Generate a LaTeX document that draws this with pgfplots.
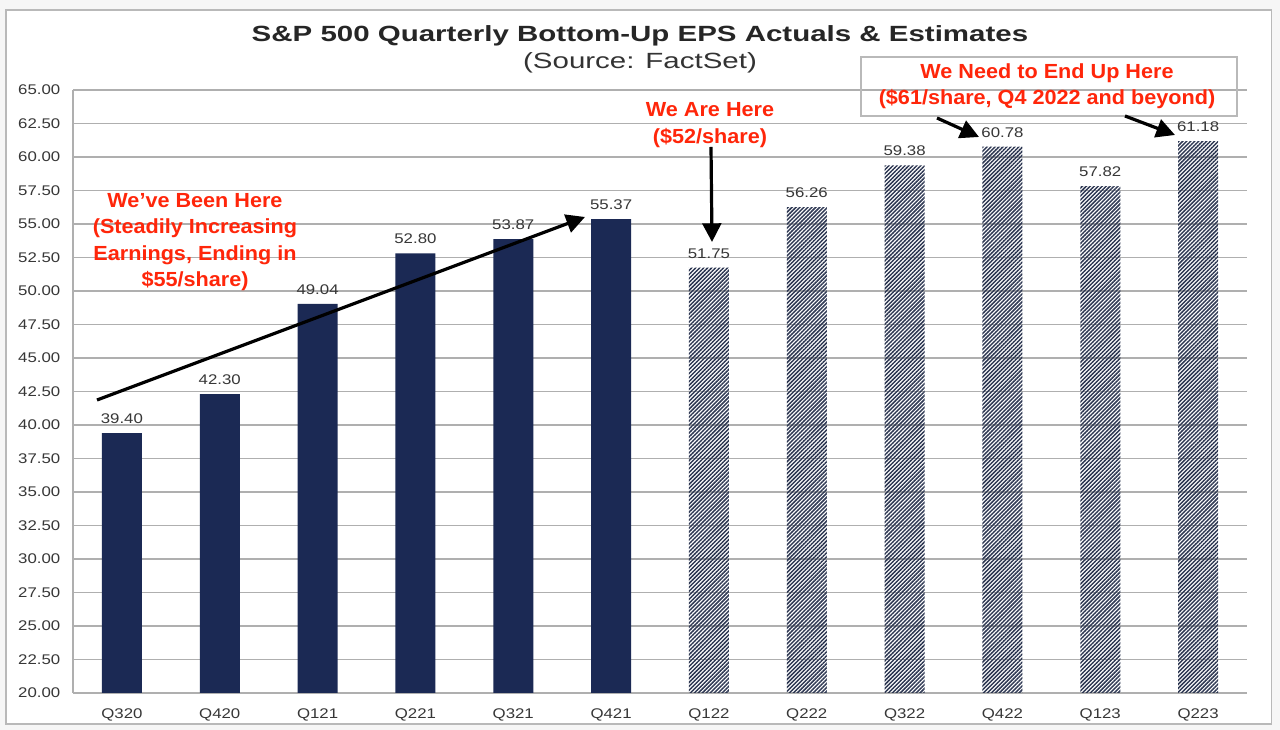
\documentclass[border=0pt]{standalone}
\usepackage{pgfplots}
\pgfplotsset{compat=1.18}
\usepackage{fontspec}
\setmainfont[FakeStretch=1.2]{Liberation Sans}
\newfontfamily\titlefont[FakeStretch=1.34]{Liberation Sans}
\newfontfamily\redfont[FakeStretch=1.06]{Liberation Sans}
\usetikzlibrary{patterns.meta,arrows.meta}
\definecolor{navy}{RGB}{27,41,84}
\definecolor{hatch}{RGB}{45,55,82}
\definecolor{redtxt}{RGB}{255,38,10}
\definecolor{gridgray}{RGB}{175,175,175}
\definecolor{labelgray}{RGB}{55,55,55}
\newcommand{\tickfont}{\fontsize{10.5}{12}\selectfont}
\newcommand{\redstyle}{\redfont\bfseries\fontsize{15.3}{19.8}\selectfont}
\begin{document}
\begin{tikzpicture}
\fill[gray!7] (0,0) rectangle (960pt,547.5pt);
\draw[gray!55, fill=white, line width=1pt] (4.5pt,4.5pt) rectangle (953.5pt,540pt);
\begin{axis}[
  at={(54.75pt,27.75pt)}, anchor=south west, scale only axis,
  width=880.5pt, height=452.25pt,
  xmin=-0.5, xmax=11.5, ymin=20, ymax=65,
  ytick={20,22.5,...,65},
  xtick={0,...,11},
  xticklabels={Q320,Q420,Q121,Q221,Q321,Q421,Q122,Q222,Q322,Q422,Q123,Q223},
  axis lines*=left,
  axis line style={draw=gridgray, line width=1.1pt},
  ymajorgrids, grid style={gridgray, line width=1.1pt},
  major tick length=0pt,
  ticklabel style={font=\tickfont, text=labelgray},
  yticklabel style={/pgf/number format/.cd, fixed, fixed zerofill, precision=2, assume math mode=true, /tikz/.cd, xshift=-6pt},
  xticklabel style={yshift=-8pt},
  ybar, bar width=30pt,
  nodes near coords={\pgfmathprintnumber[fixed,fixed zerofill,precision=2,assume math mode=true]{\pgfplotspointmeta}},
  nodes near coords style={font=\tickfont, text=labelgray, anchor=south, yshift=3.5pt},
  clip=false,
]
\addplot[bar shift=0pt, fill=navy, draw=none] coordinates {
  (0,39.40) (1,42.30) (2,49.04) (3,52.80) (4,53.87) (5,55.37)};
\addplot[bar shift=0pt, draw=none, pattern={Lines[angle=45,distance=2.1pt,line width=1.1pt]}, pattern color=hatch] coordinates {
  (6,51.75) (7,56.26) (8,59.38) (9,60.78) (10,57.82) (11,61.18)};
\end{axis}
\begin{scope}[x=0.75pt, y=-0.75pt, yshift=547.5pt]
  \node[font=\titlefont\bfseries\fontsize{16.5}{18}\selectfont, text=black!85] at (640,36) {S\&P 500 Quarterly Bottom-Up EPS Actuals \& Estimates};
  \node[font=\titlefont\fontsize{16.5}{18}\selectfont, text=black!80] at (640,63) {(Source: FactSet)};
  \draw[gray!55, line width=0.8pt] (861,57) rectangle (1237,116);
  \node[font=\redstyle, text=redtxt, align=center] at (1047,86) {We Need to End Up Here\\(\$61/share, Q4 2022 and beyond)};
  \node[font=\redstyle, text=redtxt, align=center] at (710,125) {We Are Here\\(\$52/share)};
  \node[font=\redstyle, text=redtxt, align=center] at (195,242) {We’ve Been Here\\(Steadily Increasing\\Earnings, Ending in\\\$55/share)};
  \draw[line width=2.4pt, -{Triangle[length=14pt,width=14pt]}] (97,400) -- (585,217);
  \draw[line width=2.4pt, -{Triangle[length=14pt,width=14pt]}] (711,147) -- (712,242);
  \draw[line width=2.4pt, -{Triangle[length=14pt,width=14pt]}] (937,118) -- (979,137);
  \draw[line width=2.4pt, -{Triangle[length=14pt,width=14pt]}] (1125,116) -- (1175,135);
\end{scope}
\end{tikzpicture}
\end{document}
